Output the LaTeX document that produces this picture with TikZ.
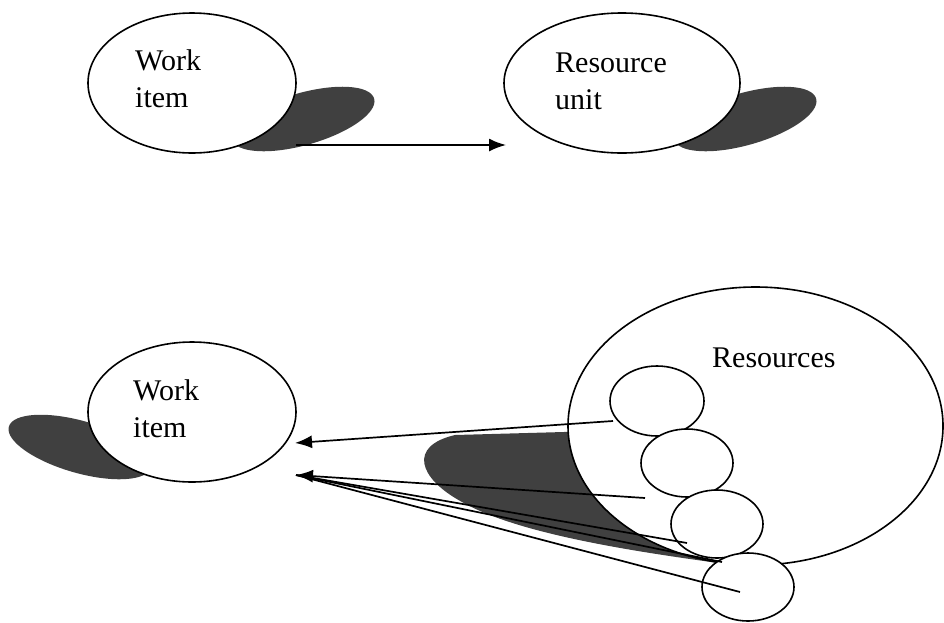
\documentclass[tikz,border=0pt]{standalone}
\usepackage{fontspec}
\setmainfont{Liberation Serif}
\usetikzlibrary{shapes.geometric,arrows.meta}
\definecolor{shadowgray}{gray}{0.25}
\tikzset{
  blob/.style={ellipse, draw=black, line width=1.6pt, fill=white, inner sep=0pt},
  txt/.style={anchor=base west, inner sep=0pt, font=\fontsize{30}{37}\selectfont},
  shadowfill/.style={fill=shadowgray},
  link/.style={line width=1.7pt},
  arrowlink/.style={link, -{Latex[length=17pt,width=13pt]}}
}
\begin{document}
\begin{tikzpicture}[x=1pt,y=-1pt]
\useasboundingbox (0,0) rectangle (944,622);

% drop shadows behind the ellipses
\fill[shadowfill, rotate around={16:(303,119)}] (303,119) ellipse [x radius=74, y radius=26];
\fill[shadowfill, rotate around={16:(745,119)}] (745,119) ellipse [x radius=74, y radius=26];
\fill[shadowfill, rotate around={-16:(80,447)}] (80,447) ellipse [x radius=74, y radius=26];
\fill[shadowfill] (718,563) .. controls (640,552) and (520,535) .. (462,502)
  .. controls (418,478) and (408,446) .. (455,435) -- (600,431) -- (700,470) -- cycle;

% upper pair
\node[blob, minimum width=208pt, minimum height=140pt] (work1) at (192,83) {};
\node[blob, minimum width=236pt, minimum height=140pt] (unit) at (622,83) {};
\node[txt] (work1text) at (135,70) {\begin{tabular}[t]{@{}l@{}}Work\\item\end{tabular}};
\node[txt] (unittext) at (555,72) {\begin{tabular}[t]{@{}l@{}}Resource\\unit\end{tabular}};

% lower group
\node[blob, minimum width=208pt, minimum height=140pt] (work2) at (192,412) {};
\node[blob, minimum width=375pt, minimum height=278pt] (res) at (755.5,426) {};
\node[blob, minimum width=94pt, minimum height=70pt] (c1) at (657,401) {};
\node[blob, minimum width=92pt, minimum height=68pt] (c2) at (687,463) {};
\node[blob, minimum width=92pt, minimum height=68pt] (c3) at (717,524) {};
\node[blob, minimum width=92pt, minimum height=68pt] (c4) at (748,587) {};
\node[txt] (work2text) at (133,400) {\begin{tabular}[t]{@{}l@{}}Work\\item\end{tabular}};
\node[txt] (restext) at (712,367) {Resources};

% connector end points
\coordinate (a0s) at (296,145);
\coordinate (a0e) at (506,145);
\coordinate (tipA) at (295,443);
\coordinate (tipB) at (296,475);
\coordinate (s1) at (613,421);
\coordinate (sA) at (645,498);
\coordinate (sB) at (687,543);
\coordinate (sC) at (722,562);
\coordinate (sD) at (740,592);

% connectors
\draw[arrowlink] (a0s) -- (a0e);
\draw[arrowlink] (s1) -- (tipA);
\draw[arrowlink] (sA) -- (tipB);
\draw[link] (sB) -- (tipB);
\draw[link] (sC) -- (tipB);
\draw[link] (sD) -- (tipB);
\end{tikzpicture}
\end{document}
